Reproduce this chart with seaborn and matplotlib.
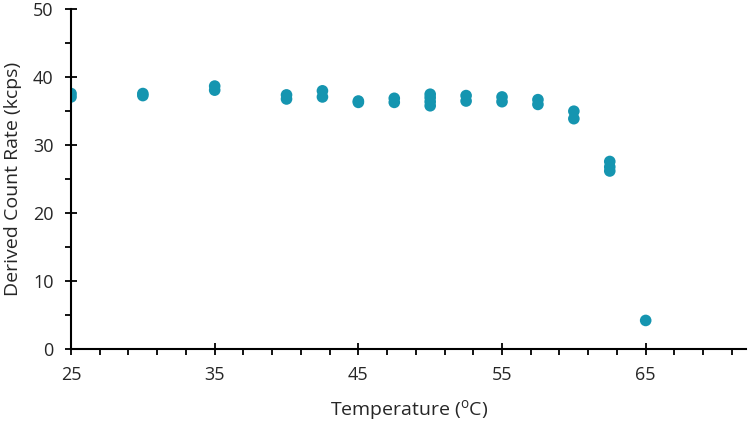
import matplotlib
matplotlib.use("Agg")
import matplotlib.pyplot as plt
import seaborn as sns
import pandas as pd
from matplotlib.ticker import MultipleLocator

temperature = [25, 25, 30, 30, 35, 35, 40, 40, 42.5, 42.5, 45, 45,
               47.5, 47.5, 50, 50, 50, 50, 52.5, 52.5, 55, 55,
               57.5, 57.5, 60, 60, 62.5, 62.5, 62.5, 65]
count_rate = [37.6, 37.1, 37.6, 37.3, 38.7, 38.1, 37.4, 36.8, 38.0, 37.1, 36.5, 36.3,
              36.9, 36.3, 37.5, 37.0, 36.4, 35.8, 37.3, 36.5, 37.1, 36.4,
              36.7, 36.0, 35.0, 33.9, 27.6, 26.8, 26.2, 4.2]
x_ticks = [25, 35, 45, 55, 65]

df = pd.DataFrame({"temp": temperature, "rate": count_rate})

sns.set_theme(style="ticks")
plt.rcParams['font.family'] = ['Open Sans', 'DejaVu Sans']

fig = plt.figure(figsize=(7.5, 4.23), dpi=100)
ax = fig.add_axes([0.0947, 0.175, 0.9003, 0.803])

sns.scatterplot(data=df, x="temp", y="rate", ax=ax, color="#1595b0",
                s=70, edgecolor="none", legend=False)

ax.set_xlim(25, 72)
ax.set_ylim(0, 50)
ax.set_xticks(x_ticks)
ax.xaxis.set_minor_locator(MultipleLocator(2, offset=1))
ax.yaxis.set_major_locator(MultipleLocator(10))
ax.yaxis.set_minor_locator(MultipleLocator(5))

for side in ["top", "right"]:
    ax.spines[side].set_visible(False)
for side in ["left", "bottom"]:
    ax.spines[side].set_color("black")
    ax.spines[side].set_linewidth(1.5)

ax.tick_params(which="major", direction="inout", length=9, width=1.3, colors="black",
               labelsize=13, pad=8, labelcolor="#262626")
ax.tick_params(which="minor", direction="out", length=4, width=1.3, colors="black")

ax.set_xlabel("Temperature ($\\mathregular{^{o}}$C)", fontsize=14, labelpad=10, color="#262626")
ax.set_ylabel("Derived Count Rate (kcps)", fontsize=14, labelpad=8, color="#262626")

fig.savefig("out.png", dpi=100)
